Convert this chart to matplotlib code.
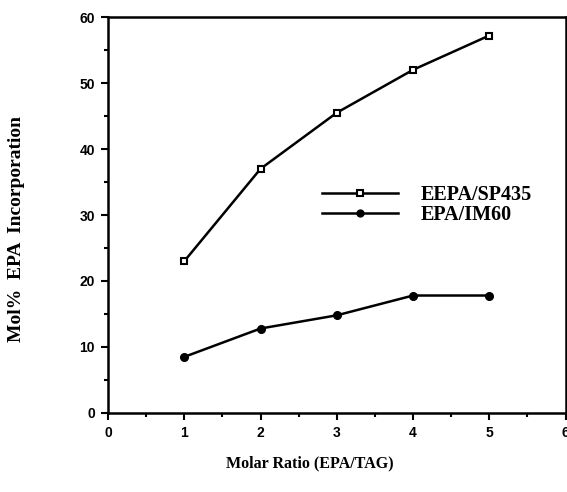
import matplotlib.pyplot as plt
from matplotlib.ticker import MultipleLocator

# data
molar_ratio = [1, 2, 3, 4, 5]
eepa_sp435 = [23.0, 37.0, 45.5, 52.0, 57.2]
epa_im60 = [8.5, 12.8, 14.8, 17.8, 17.8]

fig = plt.figure(figsize=(5.67, 4.92), dpi=100)
ax = fig.add_axes([0.1905, 0.1606, 0.807, 0.8048])

ax.plot(molar_ratio, eepa_sp435, color='black', lw=1.8, marker='s', ms=5,
        mfc='white', mec='black', mew=1.5, label='EEPA/SP435')
ax.plot(molar_ratio, epa_im60, color='black', lw=1.8, marker='o', ms=5.5,
        mfc='black', mec='black', label='EPA/IM60')

ax.set_xlim(0, 6)
ax.set_ylim(0, 60)
ax.xaxis.set_major_locator(MultipleLocator(1))
ax.xaxis.set_minor_locator(MultipleLocator(0.5))
ax.yaxis.set_major_locator(MultipleLocator(10))
ax.yaxis.set_minor_locator(MultipleLocator(5))
ax.tick_params(which='major', direction='out', length=5, width=1.5,
               labelsize=10, pad=4.5)
ax.tick_params(which='minor', direction='out', length=3, width=1.5)
for lab in ax.get_xticklabels() + ax.get_yticklabels():
    lab.set_fontweight('bold')
    lab.set_family('Liberation Sans')
for s in ax.spines.values():
    s.set_linewidth(1.8)

ax.set_xlabel('Molar Ratio (EPA/TAG)', family='Liberation Serif',
              fontweight='bold', fontsize=11.5)
ax.xaxis.set_label_coords(0.44, -0.106)
ax.set_ylabel('Mol%  EPA  Incorporation', family='Liberation Serif',
              fontweight='bold', fontsize=14)
ax.yaxis.set_label_coords(-0.181, 0.465)

leg = ax.legend(loc='center left', bbox_to_anchor=(0.427, 0.525), frameon=False,
                prop={'family': 'Liberation Serif', 'weight': 'bold', 'size': 14.5},
                handlelength=3.8, handletextpad=1.1, labelspacing=0.0,
                markerscale=0.9)

fig.savefig('out.png', dpi=100)
